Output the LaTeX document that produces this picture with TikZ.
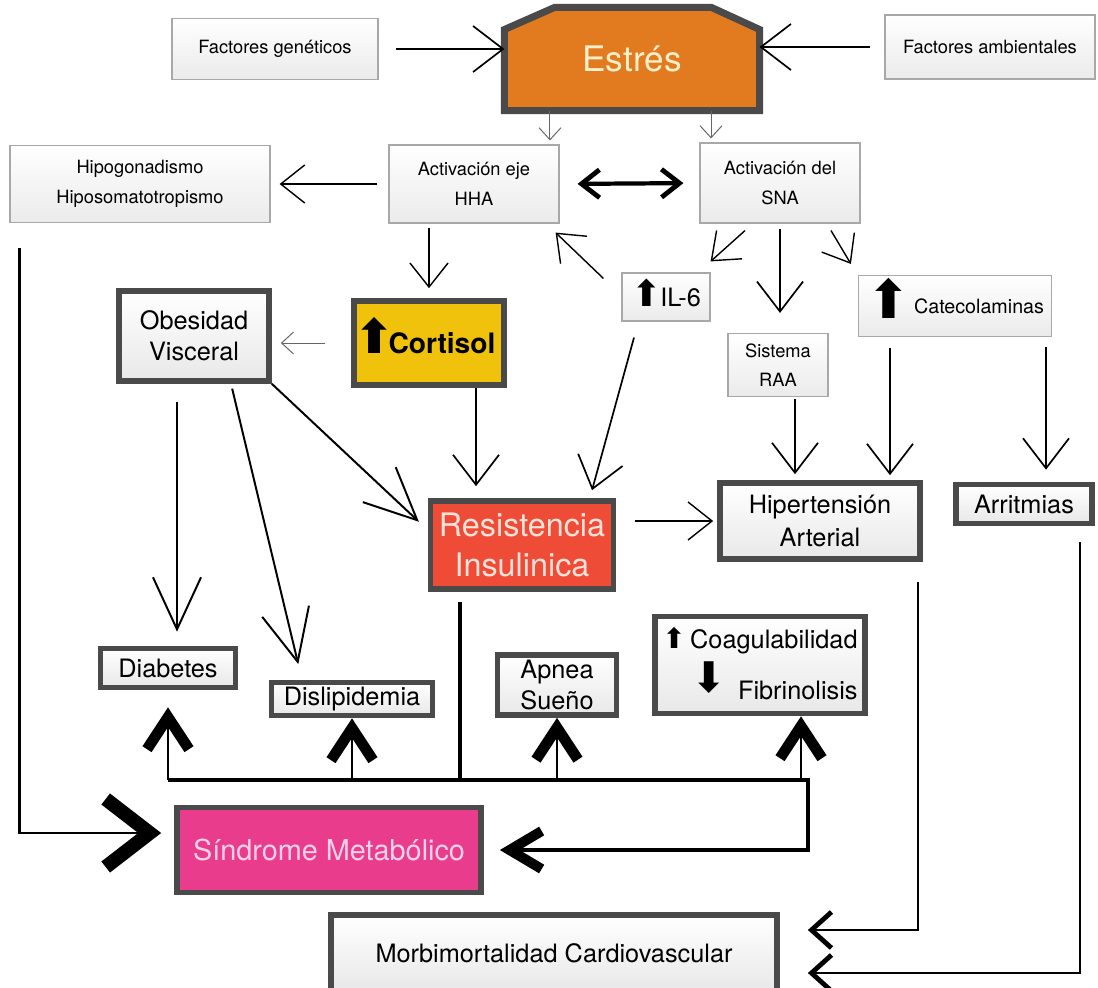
\documentclass[tikz,border=0pt]{standalone}
\usepackage{fontspec}
\usepackage{graphicx}
\setmainfont{TeX Gyre Heros}
\newfontfamily\arrowfont{DejaVu Sans}
\usetikzlibrary{arrows.meta,backgrounds}

\definecolor{boxline}{HTML}{4A4A4A}
\definecolor{thinline}{HTML}{A8A8A8}
\definecolor{estresfill}{HTML}{E27B20}
\definecolor{estrestext}{HTML}{FFF0CC}
\definecolor{cortisolfill}{HTML}{F0C20C}
\definecolor{resistfill}{HTML}{EF4C37}
\definecolor{resisttext}{HTML}{FFE2DA}
\definecolor{sindromefill}{HTML}{E93C8C}
\definecolor{sindrometext}{HTML}{FFD2EA}

\newcommand{\fsmall}{\fontsize{13}{21}\selectfont}
\newcommand{\fmid}{\fontsize{18}{22}\selectfont}
% bold arrows inside the texts
\newcommand{\up}[2][0pt]{\smash{\raisebox{#1}{\fontsize{#2}{#2}\selectfont\arrowfont ⬆}}}
\newcommand{\down}[2][0pt]{\smash{\raisebox{#1}{\fontsize{#2}{#2}\selectfont\arrowfont ⬇}}}

\begin{document}
\begin{tikzpicture}[x=0.025cm,y=-0.025cm]

% definitions
\tikzstyle{thinbox} = [rectangle, draw=thinline, line width=0.8pt, top color=white, bottom color=black!8, text centered, align=center, inner sep=0pt, font=\fsmall]

\tikzstyle{thickbox} = [rectangle, draw=boxline, line width=4pt, text centered, align=center, inner sep=0pt, font=\fmid]

\tikzstyle{grayfill} = [top color=white, bottom color=black!9]

\tikzstyle{arrowgray} = [-{Straight Barb[length=0.3cm,width=0.55cm]}, draw=black!60, line width=0.7pt]

\tikzstyle{arrow} = [-{Straight Barb[length=0.6cm,width=0.95cm]}, line width=1pt]

\tikzstyle{arrowmed} = [-{Straight Barb[length=0.75cm,width=1.15cm]}, line width=1.2pt]

\tikzstyle{arrowbig} = [-{Straight Barb[length=1.3cm,width=1.2cm]}, line width=1.4pt]

\tikzstyle{arrowboth} = [{Straight Barb[length=0.45cm,width=0.7cm,line width=0.12cm]}-{Straight Barb[length=0.45cm,width=0.7cm,line width=0.12cm]}, line width=3pt]

\tikzstyle{arrowout} = [-{Straight Barb[length=0.5cm,width=0.9cm,line width=0.12cm]}, line width=2pt]

\tikzstyle{chevron} = [-{Straight Barb[length=0.8cm,width=1.05cm,line width=0.27cm]}, line width=1.6pt]

\tikzstyle{busline} = [line width=3.5pt]

\useasboundingbox (0,0) rectangle (1098,987);

% the graph
\node (genet) [thinbox, minimum width=5.15cm, minimum height=1.525cm] at (275,49) {Factores genéticos};

\node (estres) [minimum width=6.2cm, minimum height=2.4cm, outer sep=2.5pt, text=estrestext, font=\fontsize{25}{30}\selectfont] at (632,59) {Estrés};

\node (ambient) [thinbox, minimum width=5.25cm, minimum height=1.6cm] at (990,47) {Factores ambientales};

\node (hipo) [thinbox, minimum width=6.5cm, minimum height=1.925cm] at (140,184) {Hipogonadismo\\Hiposomatotropismo};

\node (hha) [thinbox, minimum width=4.25cm, minimum height=1.95cm] at (474,184) {Activación eje\\HHA};

\node (sna) [thinbox, minimum width=4cm, minimum height=2cm] at (780,183) {Activación del\\SNA};

\node (obes) [thickbox, grayfill, minimum width=3.75cm, minimum height=2.25cm] at (194,336) {Obesidad\\Visceral};

\node (cortisol) [thickbox, fill=cortisolfill, minimum width=3.65cm, minimum height=2.1cm, font=\fontsize{20}{24}\selectfont\bfseries] at (429,343) {\up{34}\kern-4pt Cortisol\kern6pt};

\node (il6) [thinbox, minimum width=2.2cm, minimum height=1.2cm, font=\fontsize{18}{22}\selectfont] at (666,297) {\up{26}\kern-1pt IL-6};

\node (catec) [thinbox, minimum width=4.825cm, minimum height=1.525cm, font=\fontsize{14}{18}\selectfont] at (955,306) {\up[-4pt]{38}\,Catecolaminas};

\node (raa) [thinbox, minimum width=2.5cm, minimum height=1.575cm] at (778,365) {Sistema\\RAA};

\node (resist) [thickbox, fill=resistfill, text=resisttext, minimum width=4.575cm, minimum height=2.2cm, font=\fontsize{23}{28}\selectfont] at (522,545) {Resistencia\\Insulinica};

\node (hiper) [thickbox, grayfill, minimum width=5cm, minimum height=1.9cm, font=\fontsize{18}{23}\selectfont] at (820,521) {Hipertensión\\Arterial};

\node (arrit) [thickbox, grayfill, minimum width=3.4cm, minimum height=0.975cm] at (1024,504) {Arritmias};

\node (diab) [thickbox, grayfill, minimum width=3.375cm, minimum height=0.975cm] at (168,668) {Diabetes};

\node (dislip) [thickbox, grayfill, minimum width=4.025cm, minimum height=0.825cm] at (352,699) {Dislipidemia};

\node (apnea) [thickbox, grayfill, minimum width=2.975cm, minimum height=1.5cm] at (557,685) {Apnea\\Sueño};

\node (coag) [thickbox, grayfill, minimum width=5.25cm, minimum height=2.425cm, align=right] at (760,665) {\up{20}\,Coagulabilidad\\[14pt]\down[5pt]{30}\hspace{0.45em}Fibrinolisis};

\node (sindrome) [thickbox, fill=sindromefill, text=sindrometext, minimum width=7.6cm, minimum height=2.125cm, font=\fontsize{20.5}{24}\selectfont] at (329,850) {Síndrome Metabólico};

\node (morbi) [thickbox, grayfill, minimum width=11.15cm, minimum height=1.9cm] at (554,953) {Morbimortalidad Cardiovascular};

% shape behind Estres
\begin{scope}[on background layer]
\filldraw [draw=boxline, fill=estresfill, line width=5pt] ([yshift=-0.55cm]estres.north west) -- ([xshift=1.25cm]estres.north west) -- ([xshift=-1.2cm]estres.north east) -- ([yshift=-0.55cm]estres.north east) -- (estres.south east) -- (estres.south west) -- cycle;
\end{scope}

\coordinate (busL) at (168,780);
\coordinate (busR) at (808,780);
\coordinate (coagIn) at ([xshift=1.025cm]coag.south);

\draw [arrowmed, shorten <=0.425cm] (genet.east) -- (genet.east -| estres.west);
\draw [arrowmed, shorten <=0.35cm] (ambient.west) -- (ambient.west -| estres.east);
\draw [arrowgray, shorten >=0.1cm] ([xshift=-2.05cm]estres.south) -- ([xshift=-2.05cm]estres.south |- hha.north);
\draw [arrowgray, shorten >=0.1cm] ([xshift=1.975cm]estres.south) -- ([xshift=1.975cm]estres.south |- sna.north);
\draw [arrow, shorten <=0.275cm, shorten >=0.225cm] (hha.west) -- (hipo.east);
\draw [arrowboth, shorten <=0.45cm, shorten >=0.4cm] (hha.east) -- (sna.west);
\draw [arrow, shorten <=0.1cm, shorten >=0.25cm] (cortisol.north |- hha.south) -- (cortisol.north);
\draw [arrowgray, shorten <=0.65cm, shorten >=0.225cm] (cortisol.west) -- (cortisol.west -| obes.east);
\draw [arrowmed, shorten >=0.3cm] ([xshift=1.175cm]cortisol.south) -- ([xshift=1.175cm]cortisol.south |- resist.north);
\draw [arrowbig, shorten >=0.3cm] (obes.south east) -- ([yshift=0.375cm]resist.west);
\draw [arrowbig, shorten <=0.45cm, shorten >=0.35cm] ([xshift=-0.425cm]obes.south) -- ([xshift=-0.425cm]obes.south |- diab.north);
\draw [arrowbig, shorten <=0.125cm, shorten >=0.4cm] ([xshift=0.925cm]obes.south) -- ([xshift=-1.25cm]dislip.north);
\draw [arrow] ([xshift=-0.45cm,yshift=-0.15cm]il6.north west) -- ([xshift=-0.1cm,yshift=-0.225cm]hha.south east);
\draw [arrow] ([xshift=-0.875cm,yshift=-0.175cm]sna.south) -- ([yshift=0.275cm]il6.north east);
\draw [arrowmed, shorten <=0.125cm, shorten >=0.5cm] (sna.south) -- (sna.south |- raa.north);
\draw [arrow] ([xshift=1.275cm,yshift=-0.175cm]sna.south) -- ([xshift=-0.175cm,yshift=0.275cm]catec.north west);
\draw [arrowmed] ([xshift=-0.8cm,yshift=-0.4cm]il6.south) -- ([xshift=1.75cm,yshift=0.2cm]resist.north);
\draw [arrowmed, shorten <=0.05cm, shorten >=0.15cm] ([xshift=0.425cm]raa.south) -- ([xshift=0.425cm]raa.south |- hiper.north);
\draw [arrowmed, shorten <=0.275cm, shorten >=0.125cm] ([xshift=-1.625cm]catec.south) -- ([xshift=-1.625cm]catec.south |- hiper.north);
\draw [arrowmed, shorten <=0.25cm, shorten >=0.3cm] ([xshift=2.275cm]catec.south) -- ([xshift=2.275cm]catec.south |- arrit.north);
\draw [arrow, shorten <=0.475cm, shorten >=0.1cm] (hiper.west -| resist.east) -- (hiper.west);

\draw [-{Straight Barb[length=1.1cm,width=1.7cm,line width=0.35cm]}, line width=1.6pt, shorten <=0.625cm, shorten >=0.325cm] ([xshift=0.25cm]hipo.south west) |- ([yshift=0.425cm]sindrome.west);

\draw [busline, shorten <=0.25cm] ([xshift=-1.55cm]resist.south) -- ([xshift=-1.55cm]resist.south |- busL);
\draw [busline, -{Straight Barb[length=0.8cm,width=0.95cm,line width=0.25cm]}, shorten >=0.4cm] (busL) -- (busR) |- (sindrome.east);
\draw [chevron, shorten >=0.425cm] (busL) -- (diab.south);
\draw [chevron] (dislip.south |- busL) -- (dislip.south);
\draw [chevron] (apnea.south |- busL) -- (apnea.south);
\draw [chevron] (coagIn |- busL) -- (coagIn);

\draw [arrowout, shorten <=0.5cm, shorten >=0.7cm] ([xshift=2.45cm]hiper.south) |- ([yshift=0.575cm]morbi.east);
\draw [arrowout, shorten <=0.4cm, shorten >=0.7cm] ([xshift=1.4cm]arrit.south) |- ([yshift=-0.5cm]morbi.east);

\end{tikzpicture}
\end{document}
